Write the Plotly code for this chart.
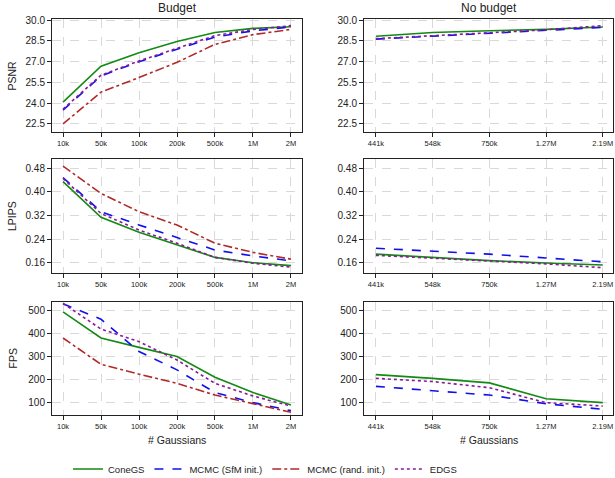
import plotly.graph_objects as go

# ---------------- data ----------------
budget_x = ["10k", "50k", "100k", "200k", "500k", "1M", "2M"]
nobudget_x = ["441k", "548k", "750k", "1.27M", "2.19M"]

# Budget
psnr_b_cone = [24.08, 26.67, 27.65, 28.45, 29.1, 29.4, 29.52]
psnr_b_sfm = [23.5, 25.97, 27.0, 27.9, 28.78, 29.22, 29.5]
psnr_b_rand = [22.5, 24.8, 25.85, 26.95, 28.25, 28.95, 29.33]
psnr_b_edgs = [23.57, 26.02, 27.05, 27.95, 28.88, 29.32, 29.6]

lpips_b_cone = [0.435, 0.314, 0.263, 0.22, 0.178, 0.160, 0.150]
lpips_b_sfm = [0.449, 0.333, 0.288, 0.245, 0.203, 0.183, 0.166]
lpips_b_rand = [0.488, 0.395, 0.333, 0.288, 0.226, 0.195, 0.172]
lpips_b_edgs = [0.446, 0.327, 0.271, 0.226, 0.178, 0.158, 0.145]

fps_b_cone = [496, 382, 341, 301, 211, 144, 90]
fps_b_sfm = [531, 464, 323, 243, 144, 100, 65]
fps_b_rand = [382, 267, 224, 184, 133, 97, 58]
fps_b_edgs = [533, 421, 366, 286, 184, 129, 85]

# No budget
psnr_n_cone = [28.83, 29.1, 29.23, 29.33, 29.5]
psnr_n_sfm = [28.63, 28.85, 29.04, 29.26, 29.47]
psnr_n_edgs = [28.66, 28.86, 29.06, 29.3, 29.6]

lpips_n_cone = [0.189, 0.177, 0.167, 0.159, 0.152]
lpips_n_sfm = [0.209, 0.200, 0.189, 0.176, 0.163]
lpips_n_edgs = [0.185, 0.175, 0.166, 0.156, 0.143]

fps_n_cone = [222, 206, 186, 117, 100]
fps_n_sfm = [171, 151, 133, 95, 71]
fps_n_edgs = [206, 192, 165, 100, 85]

names = ["ConeGS", "MCMC (SfM init.)", "MCMC (rand. init.)", "EDGS"]
colors = ["#138a13", "#1010ee", "#b02a2a", "#8a1a9a"]
dashes = ["solid", "dash", "dashdot", "dot"]

psnr_ticks = [22.5, 24.0, 25.5, 27.0, 28.5, 30.0]
lpips_ticks = [0.16, 0.24, 0.32, 0.40, 0.48]
fps_ticks = [100, 200, 300, 400, 500]

FONT = "Liberation Sans, Arial, sans-serif"
W, H = 615, 478

fig = go.Figure()

rows = [
    ("PSNR", [psnr_b_cone, psnr_b_sfm, psnr_b_rand, psnr_b_edgs],
     [psnr_n_cone, psnr_n_sfm, None, psnr_n_edgs], psnr_ticks, [21.92, 30.08], "%.1f"),
    ("LPIPS", [lpips_b_cone, lpips_b_sfm, lpips_b_rand, lpips_b_edgs],
     [lpips_n_cone, lpips_n_sfm, None, lpips_n_edgs], lpips_ticks, [0.125, 0.512], "%.2f"),
    ("FPS", [fps_b_cone, fps_b_sfm, fps_b_rand, fps_b_edgs],
     [fps_n_cone, fps_n_sfm, None, fps_n_edgs], fps_ticks, [46, 539], "%d"),
]

# pixel layout
ytops = [19, 159, 302]
ybots = [132, 273, 415]
xl = (52, 302)
xr = (364, 613)

def py(v):
    return 1 - v / H

axis_common = dict(
    showline=True, mirror=True, linecolor="#222222", linewidth=1,
    ticks="outside", ticklen=4, tickcolor="#222222",
    showgrid=True, gridcolor="#d9d9d9", griddash="dash", gridwidth=0.8,
    zeroline=False, automargin=False,
)

layout = dict(
    width=W, height=H, margin=dict(l=0, r=0, t=0, b=0, autoexpand=False),
    paper_bgcolor="white", plot_bgcolor="white",
    font=dict(family=FONT, color="#222222"),
    showlegend=True,
    legend=dict(orientation="h", x=68 / W, xanchor="left", y=py(469), yanchor="middle",
                font=dict(size=9.5, family=FONT), itemwidth=30,
                tracegroupgap=0, bgcolor="rgba(0,0,0,0)"),
)

annotations = []
idx = 0
for r, (label, bvals, nvals, ticks, yr, fmt) in enumerate(rows):
    for c, (xs, vals, xdom, xrange_) in enumerate([
        (budget_x, bvals, xl, [-0.29, 6.29]),
        (nobudget_x, nvals, xr, [-0.21, 4.18]),
    ]):
        idx += 1
        xa = "x" if idx == 1 else f"x{idx}"
        ya = "y" if idx == 1 else f"y{idx}"
        for k in range(4):
            if vals[k] is None:
                continue
            fig.add_trace(go.Scatter(
                x=xs, y=vals[k], mode="lines", name=names[k],
                line=dict(color=colors[k], dash=dashes[k], width=1.6),
                xaxis=xa, yaxis=ya,
                showlegend=(idx == 1), legendrank=k,
            ))
        xkey = "xaxis" if idx == 1 else f"xaxis{idx}"
        ykey = "yaxis" if idx == 1 else f"yaxis{idx}"
        layout[xkey] = dict(
            axis_common, domain=[xdom[0] / W, xdom[1] / W], anchor=ya,
            type="category", range=xrange_, tickfont=dict(size=7.5, family=FONT),
        )
        layout[ykey] = dict(
            axis_common, domain=[py(ybots[r]), py(ytops[r])], anchor=xa,
            range=yr, tickvals=ticks, ticktext=[fmt % t for t in ticks],
            tickfont=dict(size=10, family=FONT),
        )
    annotations.append(dict(
        text=label, x=12 / W, y=py((ytops[r] + ybots[r]) / 2), xref="paper", yref="paper",
        textangle=-90, showarrow=False, font=dict(size=10.5, family=FONT),
        xanchor="center", yanchor="middle"))

annotations.append(dict(text="Budget", x=(xl[0] + xl[1]) / 2 / W, y=py(8), xref="paper", yref="paper",
                        showarrow=False, font=dict(size=12, family=FONT), xanchor="center", yanchor="middle"))
annotations.append(dict(text="No budget", x=(xr[0] + xr[1]) / 2 / W, y=py(8), xref="paper", yref="paper",
                        showarrow=False, font=dict(size=12, family=FONT), xanchor="center", yanchor="middle"))
for xd in (xl, xr):
    annotations.append(dict(text="# Gaussians", x=(xd[0] + xd[1]) / 2 / W, y=py(440), xref="paper", yref="paper",
                            showarrow=False, font=dict(size=10.5, family=FONT), xanchor="center", yanchor="middle"))

layout["annotations"] = annotations
fig.update_layout(**layout)
fig.write_html(
    "out.html",
    config={"displayModeBar": False},
    post_script="document.body.style.margin='0';document.body.style.overflow='hidden';",
)
